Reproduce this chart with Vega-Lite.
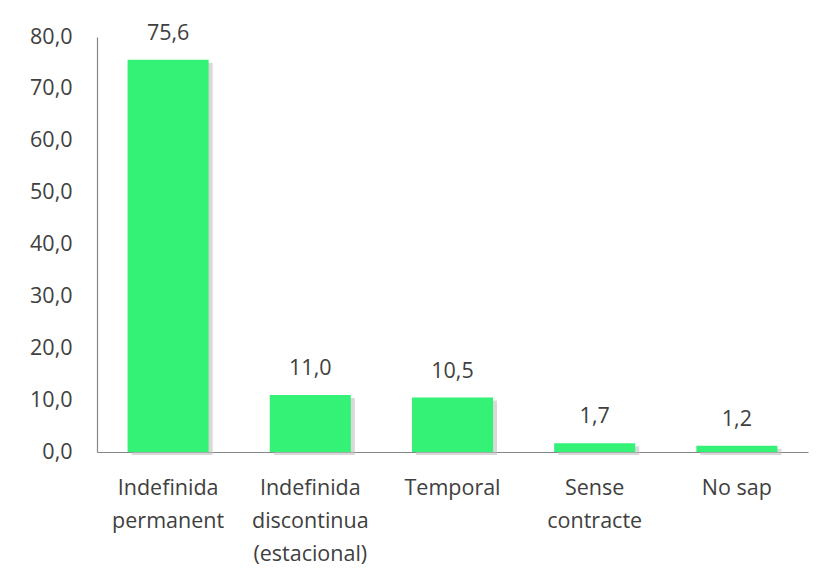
{
  "$schema": "https://vega.github.io/schema/vega-lite/v6.json",
  "width": 711,
  "height": 415,
  "autosize": {"type": "none"},
  "padding": {"left": 97, "top": 37, "right": 27, "bottom": 131},
  "background": "white",
  "config": {
    "locale": {"number": {"decimal": ",", "thousands": ".", "grouping": [3], "currency": ["", " €"]}},
    "view": {"stroke": null},
    "font": "Open Sans"
  },
  "data": {
    "values": [
      {"cat": "Indefinida|permanent", "value": 75.6},
      {"cat": "Indefinida|discontinua|(estacional)", "value": 11.0},
      {"cat": "Temporal", "value": 10.5},
      {"cat": "Sense|contracte", "value": 1.7},
      {"cat": "No sap", "value": 1.2}
    ]
  },
  "encoding": {
    "x": {
      "field": "cat", "type": "nominal", "sort": null,
      "scale": {"paddingInner": 0.43, "paddingOuter": 0.215},
      "axis": {
        "title": null, "labelAngle": 0, "ticks": false,
        "labelExpr": "split(datum.label, '|')",
        "labelFont": "Open Sans", "labelFontSize": 21.5, "labelColor": "#404040",
        "labelLineHeight": 33, "labelPadding": 25, "labelBaseline": "top",
        "labelOverlap": false, "labelBound": false,
        "domainColor": "#868686", "domainWidth": 1.2
      }
    },
    "y": {
      "field": "value", "type": "quantitative",
      "scale": {"domain": [0, 80], "nice": false},
      "axis": {
        "title": null, "values": [0,10,20,30,40,50,60,70,80],
        "format": ".1f", "grid": false, "ticks": false, "labelOverlap": false,
        "labelFont": "Open Sans", "labelFontSize": 21.5, "labelColor": "#404040",
        "labelPadding": 25, "domainColor": "#868686", "domainWidth": 1.2
      }
    }
  },
  "layer": [
    {
      "mark": {"type": "bar", "color": "#bfbfbf", "opacity": 0.6, "xOffset": 4, "y2Offset": 3, "yOffset": 3},
      "encoding": {"y": {"field": "value", "type": "quantitative"}}
    },
    {
      "mark": {"type": "bar", "color": "#33F276"}
    },
    {
      "mark": {"type": "text", "dy": -26, "fontSize": 21.5, "color": "#404040", "font": "Open Sans"},
      "encoding": {"text": {"field": "value", "type": "quantitative", "format": ".1f"}}
    }
  ]
}
